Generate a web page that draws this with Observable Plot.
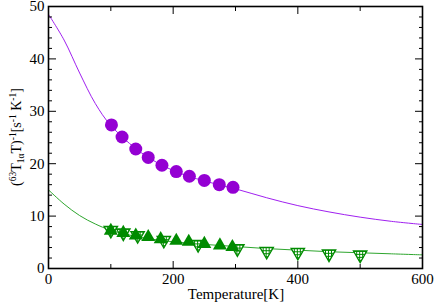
<!DOCTYPE html>
<html><head><meta charset="utf-8">
<script src="https://cdn.jsdelivr.net/npm/d3@7"></script>
<script src="https://cdn.jsdelivr.net/npm/@observablehq/plot@0.6"></script>
<style>
body{margin:0;background:#fff}
svg{display:block}
</style>
</head><body><div id="chart"></div>
<script>
// Purple circles
const circleT = [101, 118, 140, 160, 182, 205, 226, 250, 274, 296];
const circleV = [27.4, 25.1, 22.8, 21.2, 19.7, 18.5, 17.6, 16.8, 16.0, 15.5];
// Green filled up-triangles
const upT = [100, 120, 140, 160, 180, 205, 225, 250, 275, 295];
const upV = [7.2, 6.8, 6.3, 6.0, 5.6, 5.3, 5.1, 4.7, 4.4, 4.1];
// Green hatched down-triangles
const downT = [100, 120, 143, 185, 240, 303, 350, 400, 450, 500];
const downV = [7.3, 6.8, 6.3, 5.4, 4.6, 3.8, 3.3, 3.1, 2.8, 2.6];
// Fitted curves
const curveT = [0, 25, 50, 75, 100, 150, 200, 250, 300, 350, 400, 450, 500, 550, 600];
const purpleCurve = [48.5, 43.6, 37.3, 31.5, 27.3, 22.0, 18.7, 16.7, 15.2, 13.5, 12.0, 10.8, 9.8, 9.0, 8.4];
const greenCurve = [15.0, 12.3, 10.1, 8.5, 7.3, 5.9, 5.1, 4.6, 4.2, 3.8, 3.5, 3.2, 3.0, 2.8, 2.6];
// Ticks
const xMajor = [0, 200, 400, 600];
const xMinor = [100, 300, 500];
const yMajor = [0, 10, 20, 30, 40, 50];
const yMinor = d3.range(0, 51, 2).filter(v => v % 10 !== 0);
const xTitle = "Temperature[K]";

const FONT = "Liberation Serif";
const purple = "#9400d3", purpleLine = "#a020f0";
const green = "#008b00", greenLine = "#2ea62e";

const circles = circleT.map((t, i) => ({t, v: circleV[i]}));
const ups = upT.map((t, i) => ({t, v: upV[i]}));
const downs = downT.map((t, i) => ({t, v: downV[i]}));
const pc = curveT.map((t, i) => ({t, v: purpleCurve[i]}));
const gc = curveT.map((t, i) => ({t, v: greenCurve[i]}));
const blank = () => "";

const svg = Plot.plot({
  width: 436, height: 302,
  marginLeft: 48, marginRight: 14, marginTop: 6, marginBottom: 34,
  style: {background: "white", color: "black"},
  x: {domain: [0, 600]},
  y: {domain: [0, 50]},
  marks: [
    Plot.line(pc, {x: "t", y: "v", stroke: purpleLine, strokeWidth: 1, curve: "catmull-rom"}),
    Plot.line(gc, {x: "t", y: "v", stroke: greenLine, strokeWidth: 1, curve: "catmull-rom"}),
    Plot.dot(circles, {x: "t", y: "v", r: 6.5, fill: purple}),
    Plot.dot(downs, {x: "t", y: "v", symbol: "triangle", rotate: 180, r: 5, fill: "url(#hatch)", stroke: green, strokeWidth: 1.3}),
    Plot.dot(ups, {x: "t", y: "v", symbol: "triangle", r: 5.2, fill: green}),
    Plot.axisX(xMajor, {anchor: "bottom", tickSize: -7, tickPadding: 12, label: null}),
    Plot.axisX(xMinor, {anchor: "bottom", tickSize: -4, tickFormat: blank, label: null}),
    Plot.axisX(xMajor, {anchor: "top", tickSize: -7, tickFormat: blank, label: null}),
    Plot.axisX(xMinor, {anchor: "top", tickSize: -4, tickFormat: blank, label: null}),
    Plot.axisY(yMajor, {anchor: "left", tickSize: -8, tickPadding: 12, label: null}),
    Plot.axisY(yMinor, {anchor: "left", tickSize: -4, tickFormat: blank, label: null}),
    Plot.axisY(yMajor, {anchor: "right", tickSize: -8, tickFormat: blank, label: null}),
    Plot.axisY(yMinor, {anchor: "right", tickSize: -4, tickFormat: blank, label: null}),
    Plot.frame({stroke: "black", strokeWidth: 1.6})
  ]
});

const s = d3.select(svg);
s.attr("font-family", FONT).style("font-family", FONT);
s.selectAll("g[aria-label$='tick label']").attr("font-family", FONT).attr("font-size", 15)
  .style("font-family", FONT).style("font-size", "15px");
s.selectAll("g[aria-label$='tick label'] text").style("font-family", FONT).style("font-size", "15px");
const defs = s.insert("defs", ":first-child");
const p = defs.append("pattern").attr("id", "hatch").attr("patternUnits", "userSpaceOnUse")
  .attr("width", 3).attr("height", 3);
p.append("rect").attr("width", 3).attr("height", 3).attr("fill", "white");
p.append("path").attr("d", "M0,0.5H3M0.5,0V3").attr("stroke", green).attr("stroke-width", 1);

// X axis title
s.append("text").attr("x", 236).attr("y", 299).attr("text-anchor", "middle")
  .attr("font-family", FONT).attr("font-size", 15).style("font-family", FONT).style("font-size", "15px")
  .attr("fill", "black").text(xTitle);

// Y axis label with super/subscripts
const t = s.append("text")
  .attr("transform", "translate(21,137) rotate(-90)")
  .attr("text-anchor", "middle")
  .attr("font-family", FONT).style("font-family", FONT).style("font-size", "14px")
  .attr("fill", "black");
const parts = [
  ["(", 0], ["63", 1], ["T", 0], ["1α", -1], ["T)", 0], ["-1", 1],
  ["[s", 0], ["-1", 1], [" K", 0], ["-1", 1], ["]", 0]
];
for (const [txt, kind] of parts) {
  const ts = t.append("tspan").text(txt);
  if (kind === 1) ts.style("font-size", "9.5px").attr("baseline-shift", "55%");
  if (kind === -1) ts.style("font-size", "9.5px").attr("baseline-shift", "-30%");
}
document.getElementById("chart").appendChild(svg);
</script>
</body></html>
